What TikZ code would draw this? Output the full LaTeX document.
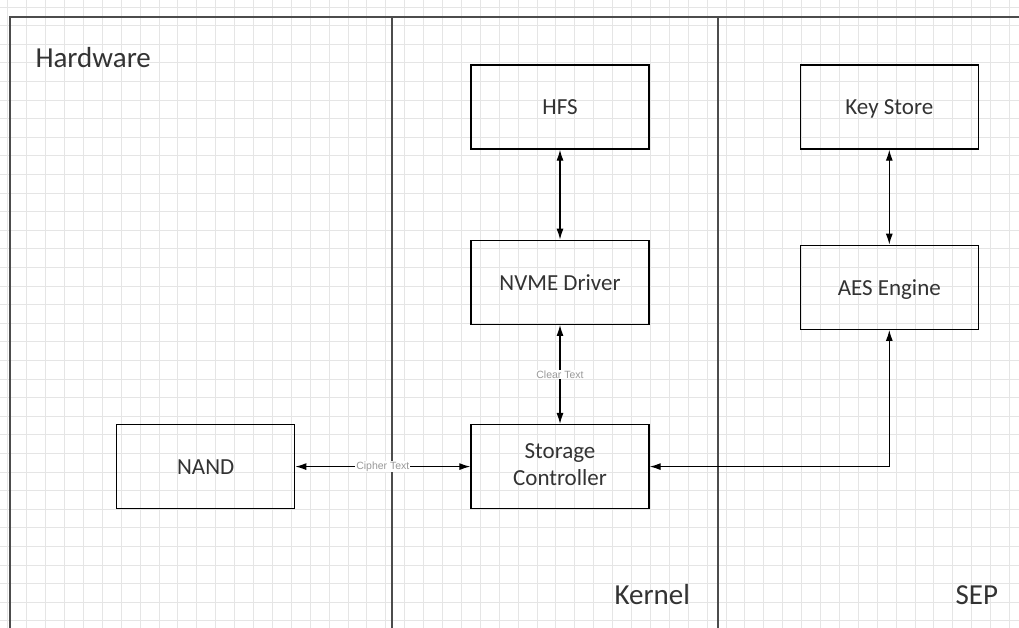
\documentclass[tikz,border=0pt]{standalone}
\usepackage{fontspec}
\setmainfont{Carlito}
\newfontfamily\labelfont{Liberation Sans}
\newcommand\boxstrut{\rule[-4pt]{0pt}{24pt}}
\usetikzlibrary{positioning,arrows.meta}

\begin{document}
\begin{tikzpicture}[
    x=1pt, y=-1pt,
    box/.style={draw, line width=1.3pt, minimum width=178pt, minimum height=84pt, align=center, text=black!80, font=\fontsize{23}{27}\selectfont,
        execute at begin node=\boxstrut, execute at end node=\boxstrut},
    lane/.style={draw=black!70, line width=1.6pt},
    gridline/.style={draw=black!10, line width=0.8pt},
    lbl/.style={fill=white, inner sep=1pt, text=black!40, font=\labelfont\fontsize{10.5}{12}\selectfont},
    title/.style={anchor=base west, text=black!80, font=\fontsize{29}{34}\selectfont},
    conn/.style={<->, line width=1.2pt},
    >={Latex[length=11pt,width=7pt]}
]
\useasboundingbox (0,0) rectangle (1019,628);
\fill[white] (0,0) rectangle (1019,628);

% grid
\foreach \i in {0,...,53} \draw[gridline] ({7.7+18.9*\i},0) -- ({7.7+18.9*\i},628);
\foreach \j in {0,...,33} \draw[gridline] (0,{7+18.6*\j}) -- (1019,{7+18.6*\j});

% lanes
\draw[lane] (1019,17) -- (10,17) -- (10,628);
\draw[lane] (392,17) -- (392,628);
\draw[lane] (718,17) -- (718,628);
\node[title] (hw) at (32,68) {Hardware};
\node[title] (kern) at (611,604) {Kernel};
\node[title] (sep) at (952,604) {SEP};

\node[box] (hfs) at (560,107) {HFS};
\node[box, below=90pt of hfs] (nvme) {NVME Driver};
\node[box, below=99pt of nvme] (ctrl) {Storage\\Controller};
\node[box, left=175pt of ctrl] (nand) {NAND};
\node[box, right=150pt of hfs] (keys) {Key Store};
\node[box, below=95pt of keys] (aes) {AES Engine};

\draw[conn] (hfs) -- (nvme);
\draw[conn] (keys) -- (aes);
\draw[conn] (nvme) -- node[lbl]{Clear Text} (ctrl);
\draw[conn] (nand) -- node[lbl]{Cipher Text} (ctrl);
\draw[conn] (aes.south) |- (ctrl.east);
\end{tikzpicture}
\end{document}
